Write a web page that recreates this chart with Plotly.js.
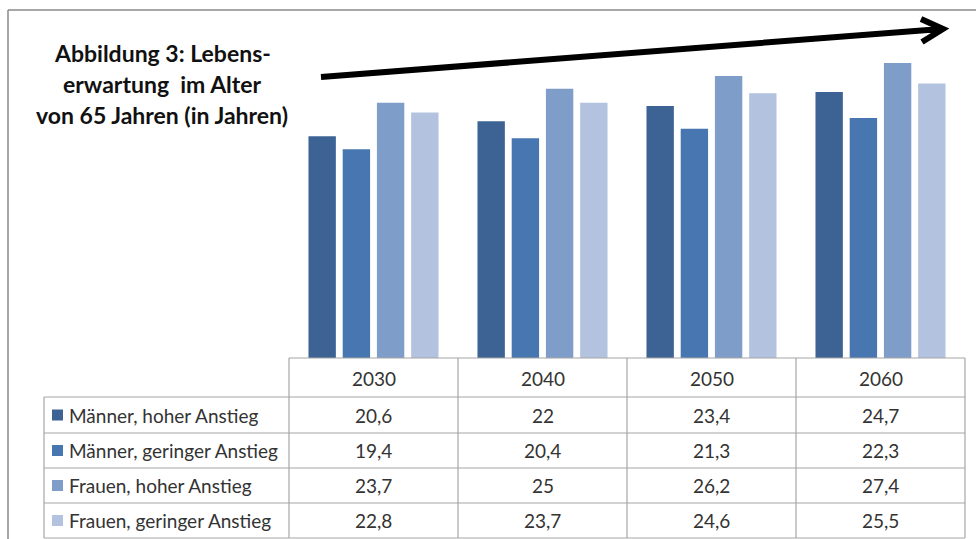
<!DOCTYPE html>
<html>
<head>
<meta charset="utf-8">
<script src="https://cdn.plot.ly/plotly-3.0.1.min.js"></script>
<style>html,body{margin:0;padding:0;background:#fff;}#chart{width:976px;height:539px;}</style>
</head>
<body>
<div id="chart"></div>
<script>
// ---- data ----
const years = ['2030', '2040', '2050', '2060'];
const seriesNames = ['Männer, hoher Anstieg', 'Männer, geringer Anstieg', 'Frauen, hoher Anstieg', 'Frauen, geringer Anstieg'];
const maennerHoch = [20.6, 22, 23.4, 24.7];
const maennerGering = [19.4, 20.4, 21.3, 22.3];
const frauenHoch = [23.7, 25, 26.2, 27.4];
const frauenGering = [22.8, 23.7, 24.6, 25.5];
const titleLines = ['Abbildung 3: Lebens-', 'erwartung  im Alter', 'von 65 Jahren (in Jahren)'];

const seriesValues = [maennerHoch, maennerGering, frauenHoch, frauenGering];
const colors = ['#3d6394', '#4876b0', '#7f9dc9', '#b3c3df'];

// ---- geometry helpers (pixel -> paper) ----
const W = 976, H = 539;
const mL = 289, mR = 11, mT = 35, mB = 181;
const pw = W - mL - mR, ph = H - mT - mB;
const PX = px => (px - mL) / pw;
const PY = py => (H - mB - py) / ph;

const traces = seriesNames.map((n, i) => ({
  type: 'bar', name: n, x: years, y: seriesValues[i],
  marker: {color: colors[i]}, hoverinfo: 'skip'
}));

const grid = '#a6a6a6';
const shapes = [];
const annotations = [];
const rowLines = [358, 397, 433, 468, 503, 538];
rowLines.forEach((ry, k) => {
  shapes.push({type: 'line', xref: 'paper', yref: 'paper',
    x0: PX(k === 0 ? 289 : 44), x1: PX(965), y0: PY(ry), y1: PY(ry),
    line: {color: grid, width: 1.2}});
});
shapes.push({type: 'line', xref: 'paper', yref: 'paper', x0: PX(44), x1: PX(44), y0: PY(397), y1: PY(538), line: {color: grid, width: 1.2}});
for (let i = 0; i <= years.length; i++) {
  const xf = i / years.length;
  shapes.push({type: 'line', xref: 'paper', yref: 'paper', x0: xf, x1: xf, y0: PY(358), y1: PY(538), line: {color: grid, width: 1.2}});
}
const fam = 'Lato, Carlito, sans-serif';
years.forEach((yr, i) => {
  annotations.push({xref: 'x', yref: 'paper', x: i, y: PY(378), text: yr, showarrow: false,
    xanchor: 'center', yanchor: 'middle', font: {family: fam, size: 19, color: '#333'}});
});
const rowCenters = [415, 450.5, 485.5, 520.5];
seriesNames.forEach((n, s) => {
  const cy = rowCenters[s];
  shapes.push({type: 'rect', xref: 'paper', yref: 'paper', x0: PX(52), x1: PX(63), y0: PY(cy - 5.5), y1: PY(cy + 5.5),
    fillcolor: colors[s], line: {width: 0}});
  annotations.push({xref: 'paper', yref: 'paper', x: PX(67), y: PY(cy), text: n, showarrow: false,
    xanchor: 'left', yanchor: 'middle', font: {family: fam, size: 19, color: '#333'}});
  seriesValues[s].forEach((v, i) => {
    annotations.push({xref: 'x', yref: 'paper', x: i, y: PY(cy), text: String(v).replace('.', ','), showarrow: false,
      xanchor: 'center', yanchor: 'middle', font: {family: fam, size: 19, color: '#333'}});
  });
});
const titleY = [53, 84, 115];
titleLines.forEach((t, k) => {
  annotations.push({xref: 'paper', yref: 'paper', x: PX(162), y: PY(titleY[k]), text: '<b>' + t + '</b>', showarrow: false,
    xanchor: 'center', yanchor: 'middle', font: {family: 'Lato, sans-serif', size: 23, color: '#111'}});
});
const ap = (x, y) => PX(x) + ',' + PY(y);
shapes.push({type: 'path', xref: 'paper', yref: 'paper',
  path: 'M' + ap(321, 77) + ' L' + ap(941, 29) + ' M' + ap(921, 19) + ' L' + ap(943, 29) + ' L' + ap(922, 42),
  line: {color: '#000', width: 6}});
shapes.push({type: 'line', xref: 'paper', yref: 'paper', x0: PX(8), x1: PX(976), y0: PY(10), y1: PY(10), line: {color: '#8a8a8a', width: 1.5}});
shapes.push({type: 'line', xref: 'paper', yref: 'paper', x0: PX(8), x1: PX(8), y0: PY(10), y1: PY(539), line: {color: '#8a8a8a', width: 1.5}});

const layout = {
  width: W, height: H,
  margin: {l: mL, r: mR, t: mT, b: mB, pad: 0},
  paper_bgcolor: '#fff', plot_bgcolor: '#fff',
  showlegend: false,
  barmode: 'group', bargap: 0.19, bargroupgap: 0.2,
  xaxis: {type: 'category', range: [-0.5, 3.5], showticklabels: false, showgrid: false, zeroline: false, showline: false, ticks: ''},
  yaxis: {range: [0, 30], visible: false, showgrid: false, zeroline: false},
  shapes: shapes,
  annotations: annotations
};

Plotly.newPlot('chart', traces, layout, {displayModeBar: false, staticPlot: true});
</script>
</body>
</html>
